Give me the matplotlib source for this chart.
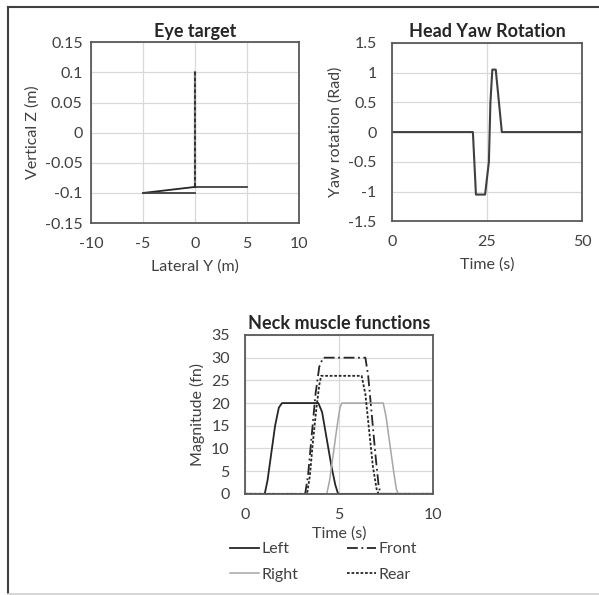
import matplotlib.pyplot as plt
from matplotlib.lines import Line2D

plt.rcParams['font.family'] = ['Lato', 'DejaVu Sans']
plt.rcParams['font.size'] = 11.5
plt.rcParams['axes.unicode_minus'] = False

# eye target (lateral Y, vertical Z)
eye_vert_y = [0, 0]
eye_vert_z = [0.1, -0.09]
eye_right_y = [0, 5]
eye_right_z = [-0.09, -0.09]
eye_slant_y = [-5, 0]
eye_slant_z = [-0.1, -0.09]
eye_low_y = [-5, 0]
eye_low_z = [-0.1, -0.1]

# head yaw rotation
yaw_t = [0, 21.3, 22.1, 24.5, 25.5, 25.9, 26.4, 27.3, 28.9, 50]
yaw_r = [0, 0, -1.05, -1.05, -0.5, 0.5, 1.05, 1.05, 0, 0]

# neck muscle functions
left_t = [0, 1.05, 1.2, 1.4, 1.6, 1.8, 1.97, 3.9, 4.1, 4.35, 4.6, 4.8, 4.95, 10]
left_v = [0, 0, 3, 9, 15, 19, 20, 20, 18, 12, 6, 2, 0, 0]
front_t = [0, 3.2, 3.35, 3.55, 3.75, 3.95, 4.15, 6.4, 6.55, 6.75, 6.95, 7.1, 7.2, 10]
front_v = [0, 0, 4, 13, 22, 28, 30, 30, 26, 17, 8, 2, 0, 0]
right_t = [0, 4.35, 4.5, 4.7, 4.9, 5.05, 5.15, 7.35, 7.5, 7.7, 7.9, 8.05, 8.15, 10]
right_v = [0, 0, 3, 9, 15, 19, 20, 20, 17, 11, 5, 1, 0, 0]
rear_t = [0, 3.3, 3.45, 3.6, 3.8, 3.95, 4.05, 6.2, 6.4, 6.6, 6.8, 7.0, 7.1, 10]
rear_v = [0, 0, 4, 11, 19, 24, 26, 26, 22, 14, 6, 1, 0, 0]

spine_c = '#595959'
grid_c = '#d9d9d9'
text_c = '#404040'


def style(ax, ypad):
    for s in ax.spines.values():
        s.set_color(spine_c)
        s.set_linewidth(1.3)
    ax.tick_params(axis='x', length=0, colors=text_c, labelsize=11.5, pad=10)
    ax.tick_params(axis='y', length=0, colors=text_c, labelsize=11.5, pad=ypad)
    ax.grid(True, color=grid_c, linewidth=0.9)
    ax.set_axisbelow(True)


fig = plt.figure(figsize=(5.99, 5.95), dpi=100)

# Eye target
ax1 = fig.add_axes([0.152, 0.625, 0.347, 0.304])
style(ax1, 6)
ax1.plot(eye_vert_y, eye_vert_z, color='#7f7f7f', lw=1.6)
ax1.plot(eye_vert_y, eye_vert_z, color='#262626', lw=1.2, ls=(0, (2, 1.5)))
ax1.plot(eye_right_y, eye_right_z, color='#404040', lw=1.3)
ax1.plot(eye_slant_y, eye_slant_z, color='#262626', lw=1.3)
ax1.plot(eye_low_y, eye_low_z, color='#404040', lw=1.3)
ax1.set_xlim(-10, 10)
ax1.set_ylim(-0.15, 0.15)
ax1.set_xticks([-10, -5, 0, 5, 10])
ax1.set_yticks([-0.15, -0.1, -0.05, 0, 0.05, 0.1, 0.15])
ax1.set_yticklabels(['-0.15', '-0.1', '-0.05', '0', '0.05', '0.1', '0.15'])
ax1.set_xlabel('Lateral Y (m)', color=text_c, labelpad=6)
ax1.set_ylabel('Vertical Z (m)', color=text_c, labelpad=4)
ax1.set_title('Eye target', fontsize=13, fontweight='bold', color='#262626', pad=4)

# Head yaw
ax2 = fig.add_axes([0.654, 0.628, 0.318, 0.300])
style(ax2, 11)
ax2.plot(yaw_t, yaw_r, color='#404040', lw=1.5)
ax2.set_xlim(0, 50)
ax2.set_ylim(-1.5, 1.5)
ax2.set_xticks([0, 25, 50])
ax2.set_yticks([-1.5, -1, -0.5, 0, 0.5, 1, 1.5])
ax2.set_yticklabels(['-1.5', '-1', '-0.5', '0', '0.5', '1', '1.5'])
ax2.set_xlabel('Time (s)', color=text_c, labelpad=6)
ax2.set_ylabel('Yaw rotation (Rad)', color=text_c, labelpad=4)
ax2.set_title('Head Yaw Rotation', fontsize=13, fontweight='bold', color='#262626', pad=4)

# Neck muscles
ax3 = fig.add_axes([0.409, 0.170, 0.314, 0.267])
style(ax3, 11)
ax3.plot(left_t, left_v, color='#262626', lw=1.3, label='Left')
ax3.plot(front_t, front_v, color='#262626', lw=1.3, ls=(0, (6, 2, 1, 2)), label='Front')
ax3.plot(right_t, right_v, color='#a6a6a6', lw=1.1, label='Right')
ax3.plot(rear_t, rear_v, color='#262626', lw=1.3, ls=(0, (1.5, 1)), label='Rear')
ax3.set_xlim(0, 10)
ax3.set_ylim(0, 35)
ax3.set_xticks([0, 5, 10])
ax3.set_yticks(range(0, 36, 5))
ax3.set_xlabel('Time (s)', color=text_c, labelpad=3)
ax3.set_ylabel('Magnitude (fn)', color=text_c, labelpad=4)
ax3.set_title('Neck muscle functions', fontsize=13, fontweight='bold', color='#262626', pad=4)
handles, labels = ax3.get_legend_handles_labels()
order = [0, 2, 1, 3]
ax3.legend([handles[i] for i in order], [labels[i] for i in order], ncol=2,
           loc='upper left', bbox_to_anchor=(0.384, 0.089), bbox_transform=fig.transFigure,
           frameon=False, borderpad=0, borderaxespad=0,
           handlelength=1.8, handletextpad=0.2, columnspacing=3.0,
           labelspacing=0.7, labelcolor=text_c)

# outer frame
fig.add_artist(Line2D([8 / 599, 8 / 599], [1 - 7 / 595, 1 - 593 / 595], color='#404040', lw=1.5))
fig.add_artist(Line2D([8 / 599, 1], [1 - 7 / 595, 1 - 7 / 595], color='#404040', lw=1.5))
fig.add_artist(Line2D([8 / 599, 1], [1 - 594 / 595, 1 - 594 / 595], color='#d0d0d0', lw=1.2))

fig.savefig('out.png', dpi=100)
